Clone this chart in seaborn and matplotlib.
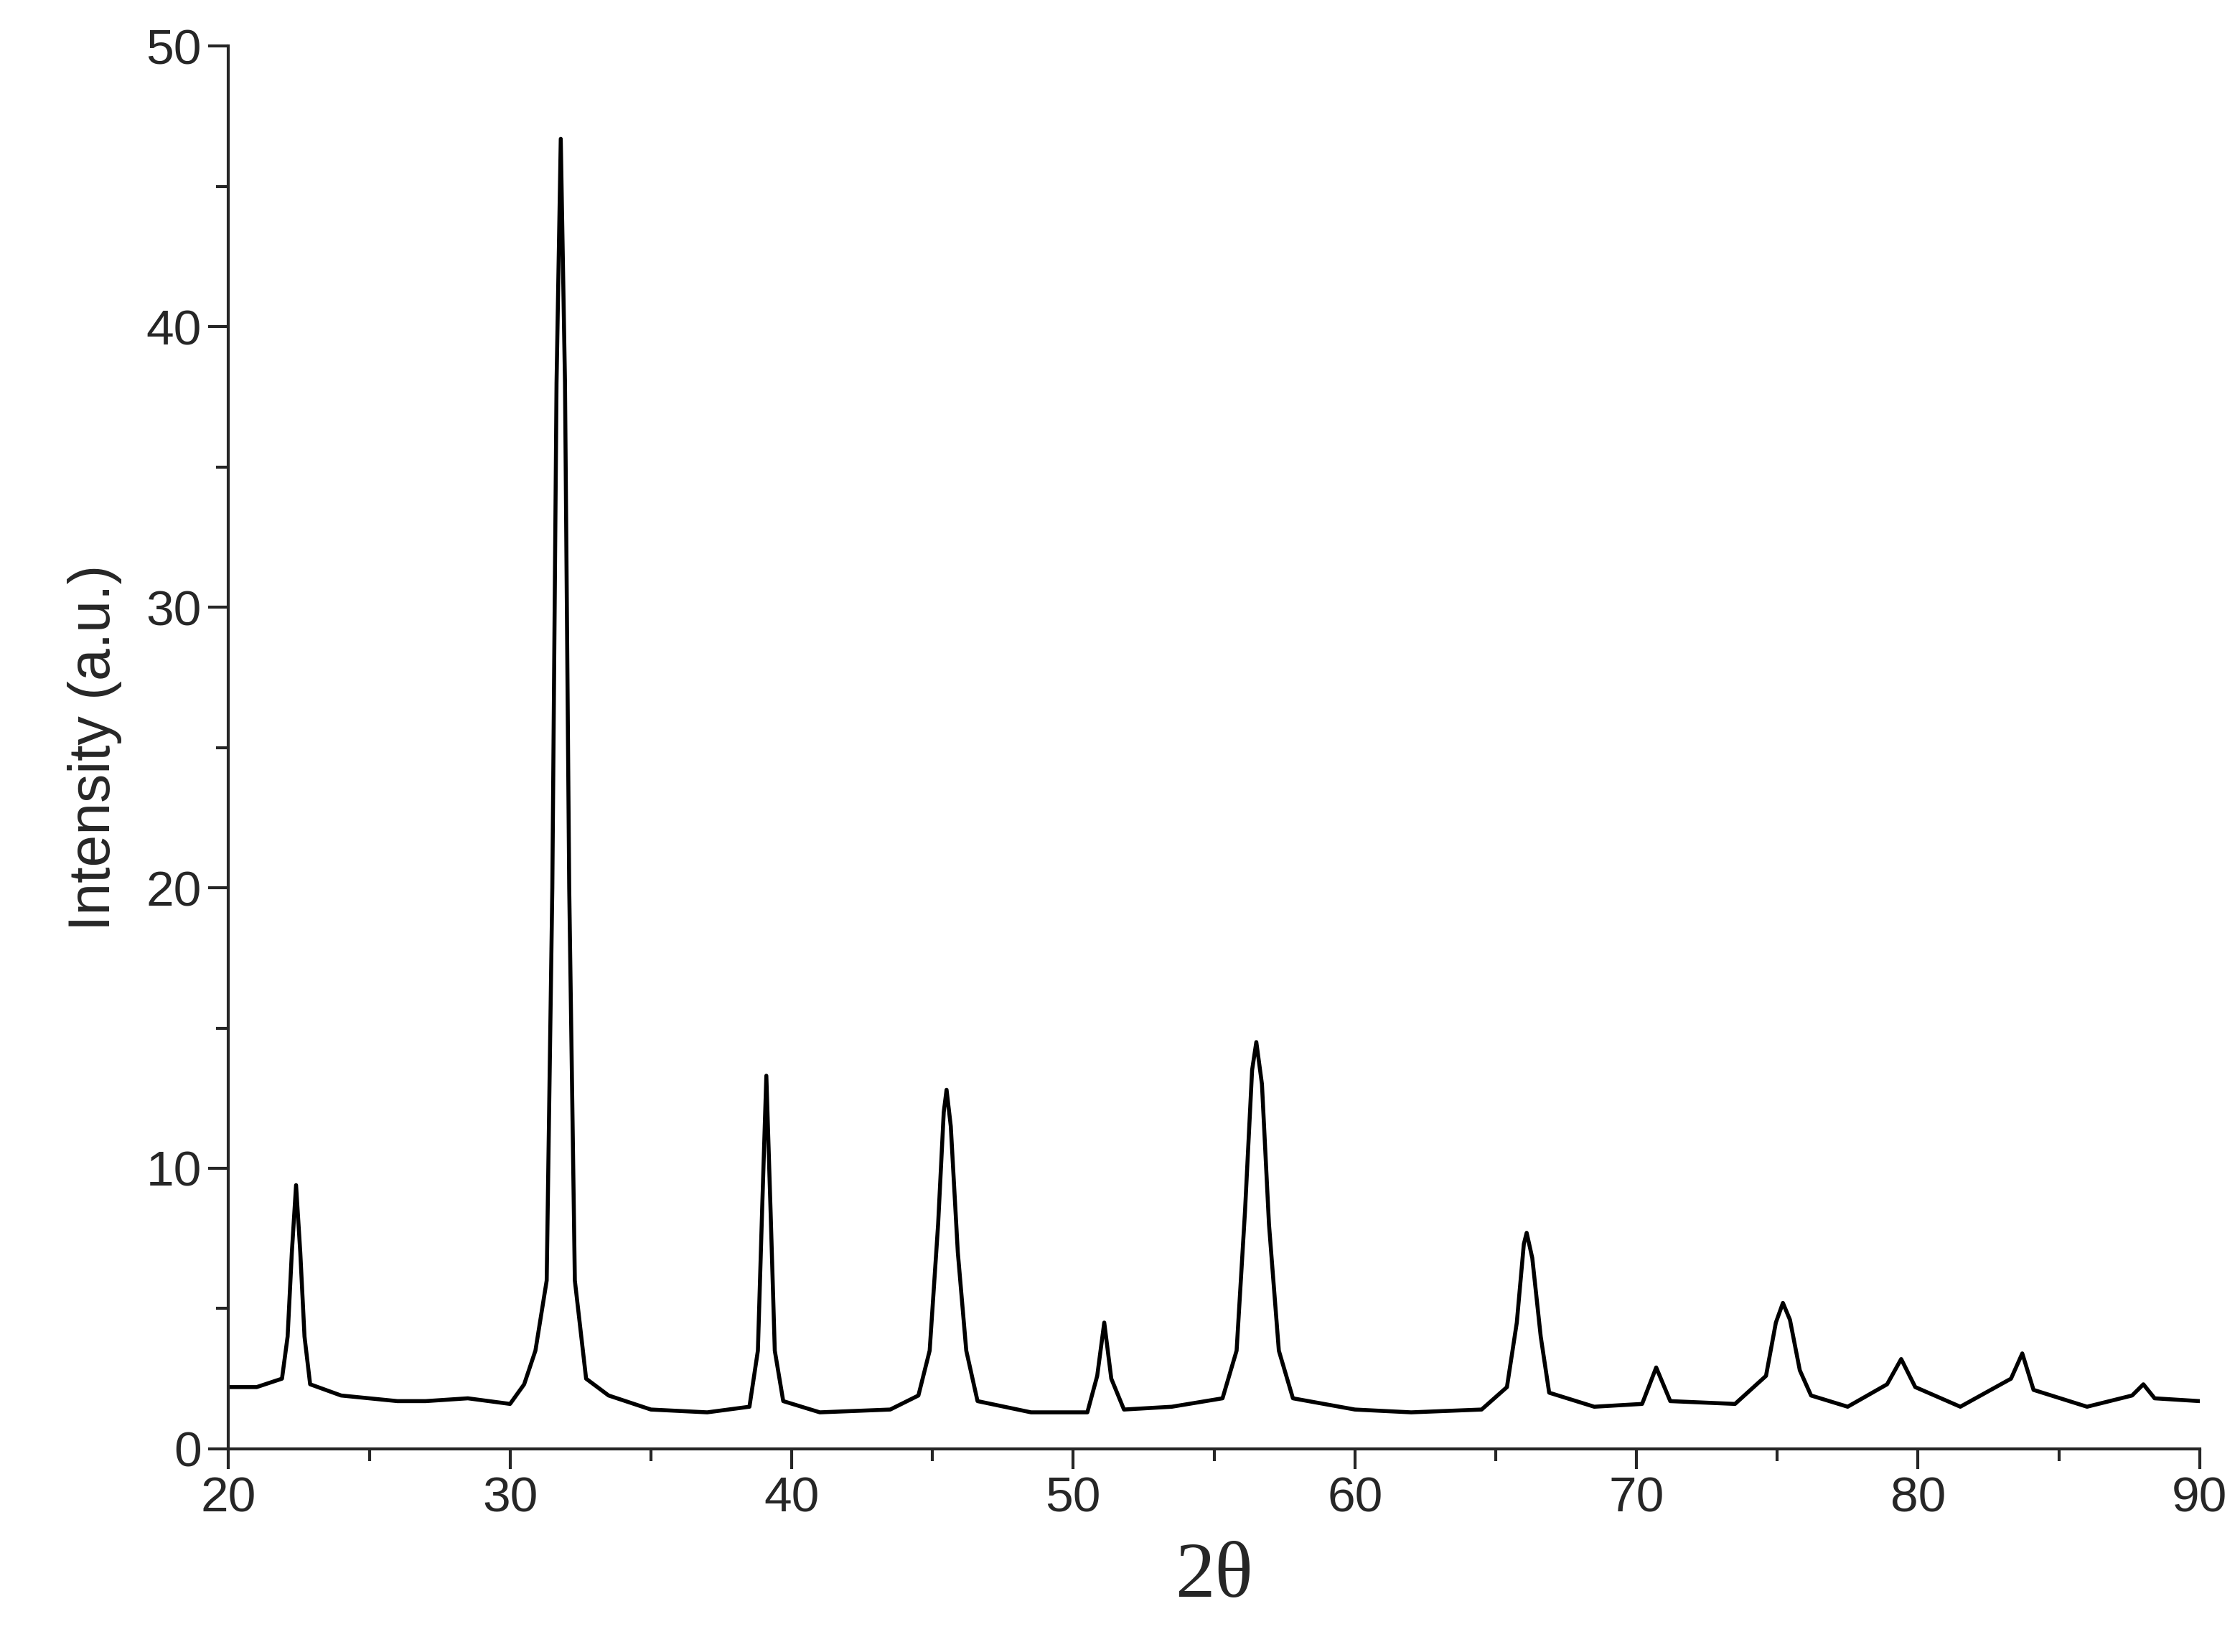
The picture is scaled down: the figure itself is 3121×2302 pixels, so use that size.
import matplotlib
matplotlib.use("Agg")
import matplotlib.pyplot as plt
import seaborn as sns
import pandas as pd
from matplotlib.ticker import MultipleLocator

# values
two_theta = [20.0, 21.0, 21.9, 22.1, 22.25, 22.4, 22.55, 22.7, 22.9, 24.0, 26.0, 27.0, 28.5, 30.0, 30.5, 30.9,
             31.3, 31.5, 31.65, 31.8, 31.95, 32.1, 32.3, 32.7, 33.5, 35.0, 37.0, 38.5, 38.8, 38.95, 39.1, 39.25,
             39.4, 39.7, 41.0, 43.5, 44.5, 44.9, 45.2, 45.4, 45.5, 45.65, 45.9, 46.2, 46.6, 48.5, 50.5, 50.85,
             51.1, 51.35, 51.8, 53.5, 55.3, 55.8, 56.1, 56.35, 56.5, 56.7, 56.95, 57.3, 57.8, 60.0, 62.0, 64.5,
             65.4, 65.75, 66.0, 66.1, 66.3, 66.6, 66.9, 68.5, 70.2, 70.7, 71.2, 73.5, 74.6, 74.95, 75.2, 75.45,
             75.8, 76.2, 77.5, 78.9, 79.4, 79.9, 81.5, 83.3, 83.7, 84.1, 86.0, 87.6, 88.0, 88.4, 90.0]
intensity = [2.2, 2.2, 2.5, 4.0, 7.0, 9.4, 7.0, 4.0, 2.3, 1.9, 1.7, 1.7, 1.8, 1.6, 2.3, 3.5,
             6.0, 20.0, 38.0, 46.7, 38.0, 20.0, 6.0, 2.5, 1.9, 1.4, 1.3, 1.5, 3.5, 8.5, 13.3, 8.5,
             3.5, 1.7, 1.3, 1.4, 1.9, 3.5, 8.0, 12.0, 12.8, 11.5, 7.0, 3.5, 1.7, 1.3, 1.3, 2.6,
             4.5, 2.5, 1.4, 1.5, 1.8, 3.5, 8.5, 13.5, 14.5, 13.0, 8.0, 3.5, 1.8, 1.4, 1.3, 1.4,
             2.2, 4.5, 7.3, 7.7, 6.8, 4.0, 2.0, 1.5, 1.6, 2.9, 1.7, 1.6, 2.6, 4.5, 5.2, 4.6,
             2.8, 1.9, 1.5, 2.3, 3.2, 2.2, 1.5, 2.5, 3.4, 2.1, 1.5, 1.9, 2.3, 1.8, 1.7]

df = pd.DataFrame({"two_theta": two_theta, "intensity": intensity})

sns.set_style("ticks")
plt.rcParams["font.family"] = ["Liberation Sans", "DejaVu Sans"]

fig = plt.figure(figsize=(15.605, 11.51), dpi=200)
ax = fig.add_axes([0.102, 0.123, 0.88, 0.849])
sns.lineplot(data=df, x="two_theta", y="intensity", color="black", lw=2, ax=ax, sort=False)

ax.set_xlim(20, 90)
ax.set_ylim(0, 50)
ax.xaxis.set_major_locator(MultipleLocator(10))
ax.xaxis.set_minor_locator(MultipleLocator(5))
ax.yaxis.set_major_locator(MultipleLocator(10))
ax.yaxis.set_minor_locator(MultipleLocator(5))
ax.tick_params(which="major", direction="out", length=10, width=1.5, labelsize=25)
ax.tick_params(which="minor", direction="out", length=6, width=1.5)
for s in ["left", "bottom"]:
    ax.spines[s].set_linewidth(1.5)
sns.despine(ax=ax)

ax.set_xlabel("2θ", fontsize=40, family=["Liberation Serif", "DejaVu Serif"], labelpad=10)
ax.set_ylabel("Intensity (a.u.)", fontsize=29, labelpad=12)

fig.savefig("out.png")
